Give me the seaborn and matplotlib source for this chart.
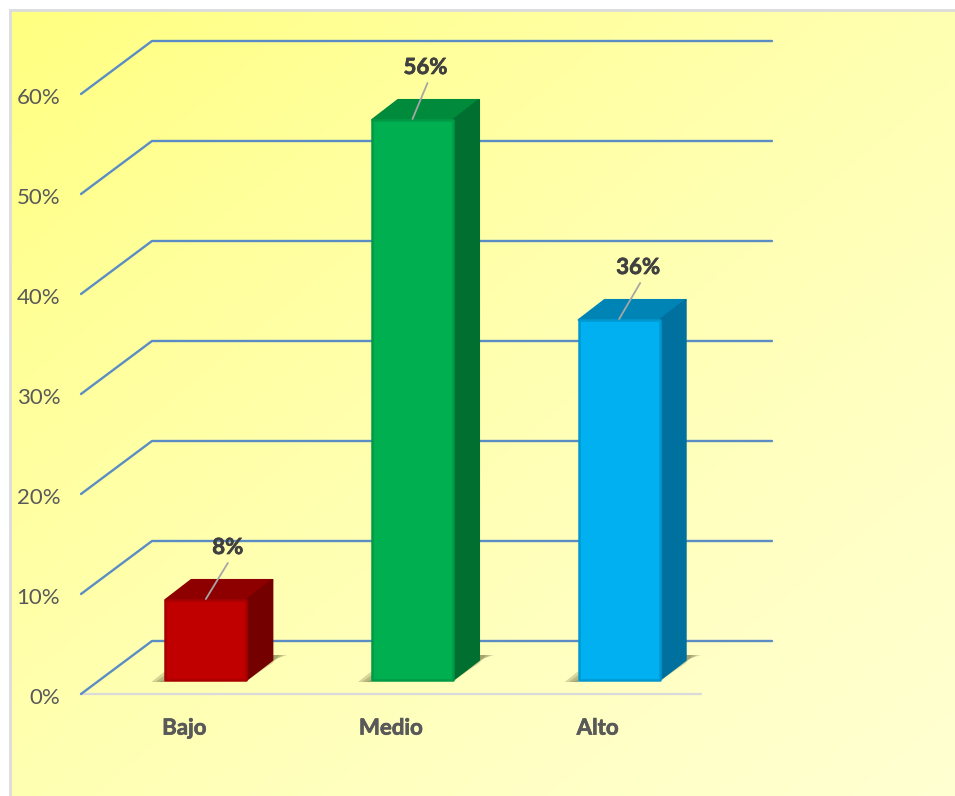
import numpy as np
import pandas as pd
import matplotlib
matplotlib.use("Agg")
import matplotlib.pyplot as plt
import matplotlib.patheffects as pe
from matplotlib.colors import LinearSegmentedColormap
from matplotlib.patches import Polygon
from matplotlib.transforms import ScaledTranslation
import seaborn as sns

categories = ["Bajo", "Medio", "Alto"]
values = [8, 56, 36]
y_ticks = [0, 10, 20, 30, 40, 50, 60]

front_colors = ["#C00000", "#00B050", "#00B0F0"]
top_colors = ["#8E0000", "#008A3C", "#0084B6"]
side_colors = ["#750000", "#006F30", "#00709E"]
rim_colors = ["#A80000", "#009A46", "#0098D0"]

W, H = 955, 796
L, R, B, T = 81, 701, 694, 94      # plot frame in pixels
PX_X = (R - L) / 3                 # pixels per category
PX_Y = (B - T) / 60                # pixels per percent
dx = lambda px: px / PX_X
dy = lambda px: px / PX_Y

sns.set_theme(style="white")
plt.rcParams["font.family"] = ["Lato", "DejaVu Sans"]

fig = plt.figure(figsize=(W / 100, H / 100), dpi=100, facecolor="white")

# background panel
bg = fig.add_axes([10 / W, 0, (W - 10) / W, (H - 10) / H])
xx, yy = np.meshgrid(np.linspace(0, 1, 200), np.linspace(0, 1, 200))
cmap = LinearSegmentedColormap.from_list(
    "panel", ["#FFFF80", "#FFFF9C", "#FFFFB2", "#FFFFC4", "#FFFFD2"])
bg.imshow((xx + yy) / 2, cmap=cmap, aspect="auto", origin="upper", vmin=0, vmax=1)
bg.set_xticks([])
bg.set_yticks([])
for s in ["right", "bottom"]:
    bg.spines[s].set_visible(False)
for s in ["left", "top"]:
    bg.spines[s].set_color("#DCDCDC")
    bg.spines[s].set_linewidth(2)

ax = fig.add_axes([L / W, (H - B) / H, (R - L) / W, (B - T) / H], facecolor="none")
df = pd.DataFrame({"nivel": categories, "pct": values})
sns.barplot(data=df, x="nivel", y="pct", hue="nivel", order=categories,
            hue_order=categories, palette=front_colors, saturation=1,
            width=81 / PX_X, dodge=False, legend=False, ax=ax, zorder=5)

ax.set_xlim(-0.5, 2.5)
ax.set_ylim(0, 60)
ax.set_xlabel("")
ax.set_ylabel("")
ax.set_yticks(y_ticks, [f"{v}%" for v in y_ticks])
ax.tick_params(axis="y", length=0, pad=15, labelsize=16, labelcolor="#595959")
ax.tick_params(axis="x", length=0, pad=17, labelsize=16, labelcolor="#595959")
thick = [pe.withStroke(linewidth=0.5, foreground="#595959")]
for t in ax.get_xticklabels():
    t.set_fontweight("bold")
    t.set_path_effects(thick)
for t in ax.get_yticklabels():
    t.set_transform(t.get_transform() + ScaledTranslation(0, -1.5 / 72, fig.dpi_scale_trans))
for s in ax.spines.values():
    s.set_visible(False)

# floor line and receding gridlines
ax.plot([-0.5, 2.5], [0, 0], color="#DADADA", lw=1.6, clip_on=False, zorder=1)
for v in y_ticks:
    ax.plot([-0.5, -0.5 + dx(71), -0.5 + dx(691)], [v, v + dy(53), v + dy(53)],
            color="#5B8CC4", lw=1.7, clip_on=False, zorder=2,
            solid_joinstyle="round")

# 3D look of each bar
SHIFT_X, SHIFT_Y = dx(21.5), dy(14)
DEPTH_X, DEPTH_Y = dx(26), dy(20)
label_dx = [22, 13, 19]
line_dx = [22, 15, 21]
for i, p in enumerate(ax.patches):
    p.set_x(p.get_x() + SHIFT_X)
    p.set_y(SHIFT_Y)
    p.set_edgecolor(rim_colors[i])
    p.set_linewidth(1.8)
    p.set_joinstyle("round")
    x0, x1 = p.get_x(), p.get_x() + p.get_width()
    y0, y1 = p.get_y(), p.get_y() + p.get_height()
    # soft floor shadow
    for a, g in [(0.28, 0), (0.28, 4), (0.28, 8)]:
        ax.add_patch(Polygon(
            [(x1, y0 - dy(1)), (x1 + DEPTH_X, y0 + DEPTH_Y - dy(g * 0.4)),
             (x1 + DEPTH_X + dx(15 - g), y0 + DEPTH_Y + dy(5)),
             (x1 + DEPTH_X - dx(2), y0 + DEPTH_Y + dy(5))],
            closed=True, fc="#6E6E40", ec="none", alpha=a, clip_on=False, zorder=3))
        ax.add_patch(Polygon(
            [(x0, y0 - dy(2)), (x0 - dx(14 - g), y0 - dy(2)), (x0, y0 + dy(9 - g))],
            closed=True, fc="#6E6E40", ec="none", alpha=a, clip_on=False, zorder=3))
    ax.add_patch(Polygon(
        [(x0, y1), (x1, y1), (x1 + DEPTH_X, y1 + DEPTH_Y), (x0 + DEPTH_X, y1 + DEPTH_Y)],
        closed=True, fc=top_colors[i], ec=top_colors[i], lw=1.5, joinstyle="round",
        clip_on=False, zorder=4))
    ax.add_patch(Polygon(
        [(x1, y0), (x1 + DEPTH_X, y0 + DEPTH_Y), (x1 + DEPTH_X, y1 + DEPTH_Y), (x1, y1)],
        closed=True, fc=side_colors[i], ec=side_colors[i], lw=1.5, joinstyle="round",
        clip_on=False, zorder=4))
    # value label with leader line
    cx = (x0 + x1) / 2
    ax.plot([cx, cx + dx(line_dx[i])], [y1 + dy(1), y1 + dy(37)], color="#A6A6A6",
            lw=1.3, clip_on=False, zorder=7)
    ax.text(cx + dx(label_dx[i]), y1 + dy(52.5), f"{values[i]}%", ha="center",
            va="center", fontsize=16, fontweight="bold", color="#404040", zorder=8,
            path_effects=[pe.withStroke(linewidth=0.5, foreground="#404040")])

fig.savefig("out.png", dpi=100, facecolor="white")
